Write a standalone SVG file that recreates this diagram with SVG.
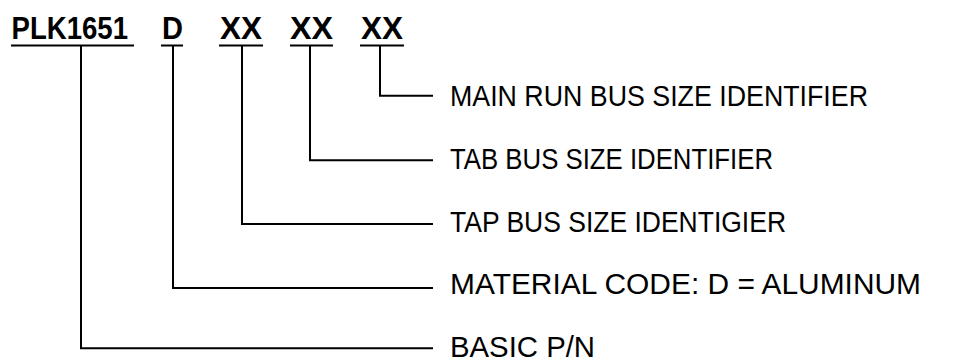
<svg xmlns="http://www.w3.org/2000/svg" width="974" height="364" viewBox="0 0 974 364">
<style>
.hd{font-family:"Liberation Sans",Arial,sans-serif;font-weight:bold;font-size:31px;fill:#000}
.lb{font-family:"Liberation Sans",Arial,sans-serif;font-size:30px;fill:#000}
.ln{stroke:#000;stroke-width:2;fill:none}
</style>
<rect width="974" height="364" fill="#fff"/>
<g id="seg-basic">
<text class="hd" x="11.5" y="39" textLength="116.5" lengthAdjust="spacingAndGlyphs">PLK1651</text>
<line class="ln" x1="11" y1="45.5" x2="134" y2="45.5"/>
</g>
<g id="seg-material">
<text class="hd" x="162" y="39" textLength="21" lengthAdjust="spacingAndGlyphs">D</text>
<line class="ln" x1="161" y1="45.5" x2="183" y2="45.5"/>
</g>
<g id="seg-tap">
<text class="hd" x="220" y="39" textLength="42" lengthAdjust="spacingAndGlyphs">XX</text>
<line class="ln" x1="219" y1="45.5" x2="263" y2="45.5"/>
</g>
<g id="seg-tab">
<text class="hd" x="290" y="39" textLength="43" lengthAdjust="spacingAndGlyphs">XX</text>
<line class="ln" x1="290" y1="45.5" x2="333" y2="45.5"/>
</g>
<g id="seg-main">
<text class="hd" x="361" y="39" textLength="42" lengthAdjust="spacingAndGlyphs">XX</text>
<line class="ln" x1="360" y1="45.5" x2="404" y2="45.5"/>
</g>
<g id="connectors">
<polyline class="ln" points="380,45.5 380,95.7 433,95.7"/>
<polyline class="ln" points="310,45.5 310,160.3 433,160.3"/>
<polyline class="ln" points="242,45.5 242,224 433,224"/>
<polyline class="ln" points="173,45.5 173,288 433,288"/>
<polyline class="ln" points="81,45.5 81,348.3 433,348.3"/>
</g>
<g id="label-main"><text class="lb" x="450" y="106" textLength="418" lengthAdjust="spacingAndGlyphs">MAIN RUN BUS SIZE IDENTIFIER</text></g>
<g id="label-tab"><text class="lb" x="450" y="169" textLength="323" lengthAdjust="spacingAndGlyphs">TAB BUS SIZE IDENTIFIER</text></g>
<g id="label-tap"><text class="lb" x="450" y="231.7" textLength="336" lengthAdjust="spacingAndGlyphs">TAP BUS SIZE IDENTIGIER</text></g>
<g id="label-material"><text class="lb" x="450" y="294" textLength="471" lengthAdjust="spacingAndGlyphs">MATERIAL CODE: D = ALUMINUM</text></g>
<g id="label-basic"><text class="lb" x="450" y="356.7" textLength="145" lengthAdjust="spacingAndGlyphs">BASIC P/N</text></g>
</svg>
